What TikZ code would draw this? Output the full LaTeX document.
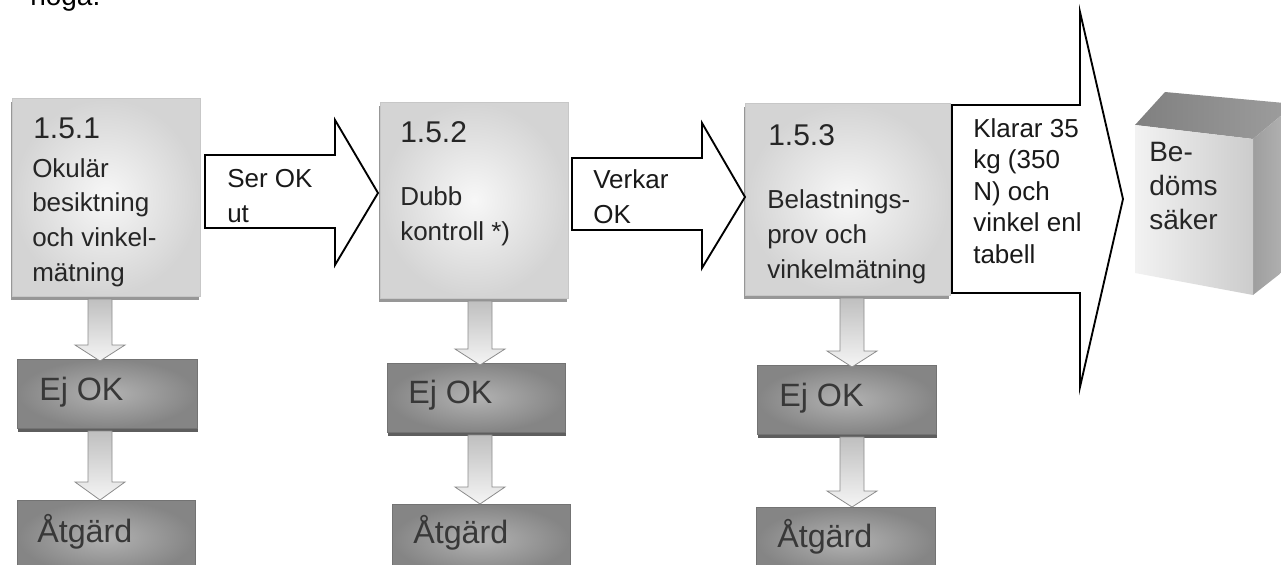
\documentclass[tikz,border=0pt]{standalone}
\usepackage{fontspec}
\setmainfont{Liberation Sans}
\usetikzlibrary{fit,shadows}
\newcommand{\dnarr}[4]{%
  \path[dnarrow] (#1-12,#2) -- (#1+12,#2) -- (#1+12,#3) -- (#1+25,#3) -- (#1,#4) -- (#1-25,#3) -- (#1-12,#3) -- cycle;}
\begin{document}
\begin{tikzpicture}[x=0.75pt,y=-0.75pt,
  topbox/.style={draw=black!22, line width=0.4pt, inner color=black!3, outer color=black!17, inner sep=0pt,
    drop shadow={shadow xshift=-1pt, shadow yshift=-3pt, fill=black!45, opacity=0.9}},
  darkbox/.style={draw=black!55, line width=0.5pt, inner color=black!30, outer color=black!48, inner sep=0pt,
    drop shadow={shadow xshift=1pt, shadow yshift=-3pt, fill=black!70, opacity=0.9}},
  dnarrow/.style={draw=black!45, line width=0.6pt, top color=black!25, bottom color=black!4, line join=miter},
  blockarrow/.style={draw=black, line width=1.4pt, fill=white, line join=miter},
  numtxt/.style={anchor=base west, inner sep=0pt, text=black!85, font=\fontsize{22.5}{26}\selectfont},
  bodytxt/.style={anchor=base west, inner sep=0pt, align=left, text=black!85, font=\fontsize{19.5}{26}\selectfont},
  arrtxt/.style={anchor=base west, inner sep=0pt, align=left, text=black!90, font=\fontsize{19.5}{26}\selectfont},
  darktxt/.style={anchor=base west, inner sep=0pt, text=black!78, font=\fontsize{24.2}{28}\selectfont},
  cubetxt/.style={anchor=base west, inner sep=0pt, align=left, text=black!85, font=\fontsize{21}{25.5}\selectfont}
]
\useasboundingbox (0,0) rectangle (1281,564);

% partial heading text at the top
\node[anchor=base west, inner sep=0pt, font=\fontsize{21}{25}\selectfont] (noga) at (30,5) {noga.};

% top boxes
\coordinate (b1a) at (12,98);  \coordinate (b1b) at (200,296);
\coordinate (b2a) at (380,102); \coordinate (b2b) at (568,298);
\coordinate (b3a) at (745,103); \coordinate (b3b) at (950,295);
\node[topbox, fit=(b1a)(b1b)] (b1) {};
\node[topbox, fit=(b2a)(b2b)] (b2) {};
\node[topbox, fit=(b3a)(b3b)] (b3) {};

% Ej OK boxes
\coordinate (e1a) at (17,359);  \coordinate (e1b) at (197,428);
\coordinate (e2a) at (387,363); \coordinate (e2b) at (565,432);
\coordinate (e3a) at (757,365); \coordinate (e3b) at (936,434);
\node[darkbox, fit=(e1a)(e1b)] (e1) {};
\node[darkbox, fit=(e2a)(e2b)] (e2) {};
\node[darkbox, fit=(e3a)(e3b)] (e3) {};

% Atgard boxes
\coordinate (a1a) at (17,500);  \coordinate (a1b) at (195,575);
\coordinate (a2a) at (392,504); \coordinate (a2b) at (570,575);
\coordinate (a3a) at (756,507); \coordinate (a3b) at (935,575);
\node[darkbox, fit=(a1a)(a1b)] (a1) {};
\node[darkbox, fit=(a2a)(a2b)] (a2) {};
\node[darkbox, fit=(a3a)(a3b)] (a3) {};

% down arrows
\dnarr{100}{299}{345}{361}
\dnarr{100}{431}{482}{500}
\dnarr{480}{301}{349}{365}
\dnarr{480}{435}{487}{504}
\dnarr{852}{298}{351}{367}
\dnarr{852}{437}{491}{507}

% texts in top boxes (multi-line nodes: base = last line)
\node[numtxt] (t1n) at (33,138) {1.5.1};
\node[bodytxt] (t1) at (32,281) {Okulär\\besiktning\\och vinkel-\\mätning};
\node[numtxt] (t2n) at (400,142) {1.5.2};
\node[bodytxt] (t2) at (400,240) {Dubb\\kontroll *)};
\node[numtxt] (t3n) at (768,145) {1.5.3};
\node[bodytxt] (t3) at (767,278) {Belastnings-\\prov och\\vinkelmätning};

% texts in dark boxes
\node[darktxt] (te1) at (39,400) {Ej OK};
\node[darktxt] (te2) at (408,403) {Ej OK};
\node[darktxt] (te3) at (779,406) {Ej OK};
\node[darktxt] (ta1) at (37,542) {Åtgärd};
\node[darktxt] (ta2) at (413,543) {Åtgärd};
\node[darktxt] (ta3) at (777,547) {Åtgärd};

% block arrows
\path[blockarrow] (205,155) -- (335,155) -- (335,120) -- (378,193) -- (335,265) -- (335,228) -- (205,228) -- cycle;
\path[blockarrow] (572,158) -- (702,158) -- (702,123) -- (745,197) -- (702,268) -- (702,230) -- (572,230) -- cycle;
\path[blockarrow] (952,105) -- (1080,105) -- (1080,12) -- (1123,199) -- (1080,387) -- (1080,293) -- (952,293) -- cycle;
\node[arrtxt] (r1) at (227,222) {Ser OK\\ut};
\node[arrtxt] (r2) at (593,223) {Verkar\\OK};
\node[arrtxt, font=\fontsize{19.5}{23.6}\selectfont] (r3) at (973,263) {Klarar 35\\kg (350\\N) och\\vinkel enl\\tabell};

% cube
\path[left color=black!50, right color=black!38] (1135,125) -- (1165,92) -- (1295,104) -- (1253,139) -- cycle;
\path[left color=black!38, right color=black!28] (1253,139) -- (1295,104) -- (1295,262) -- (1253,295) -- cycle;
\path[left color=black!5, right color=black!20] (1135,125) -- (1253,139) -- (1253,295) -- (1135,273) -- cycle;
\node[cubetxt] (cube) at (1149,229) {Be-\\döms\\säker};
\end{tikzpicture}
\end{document}
